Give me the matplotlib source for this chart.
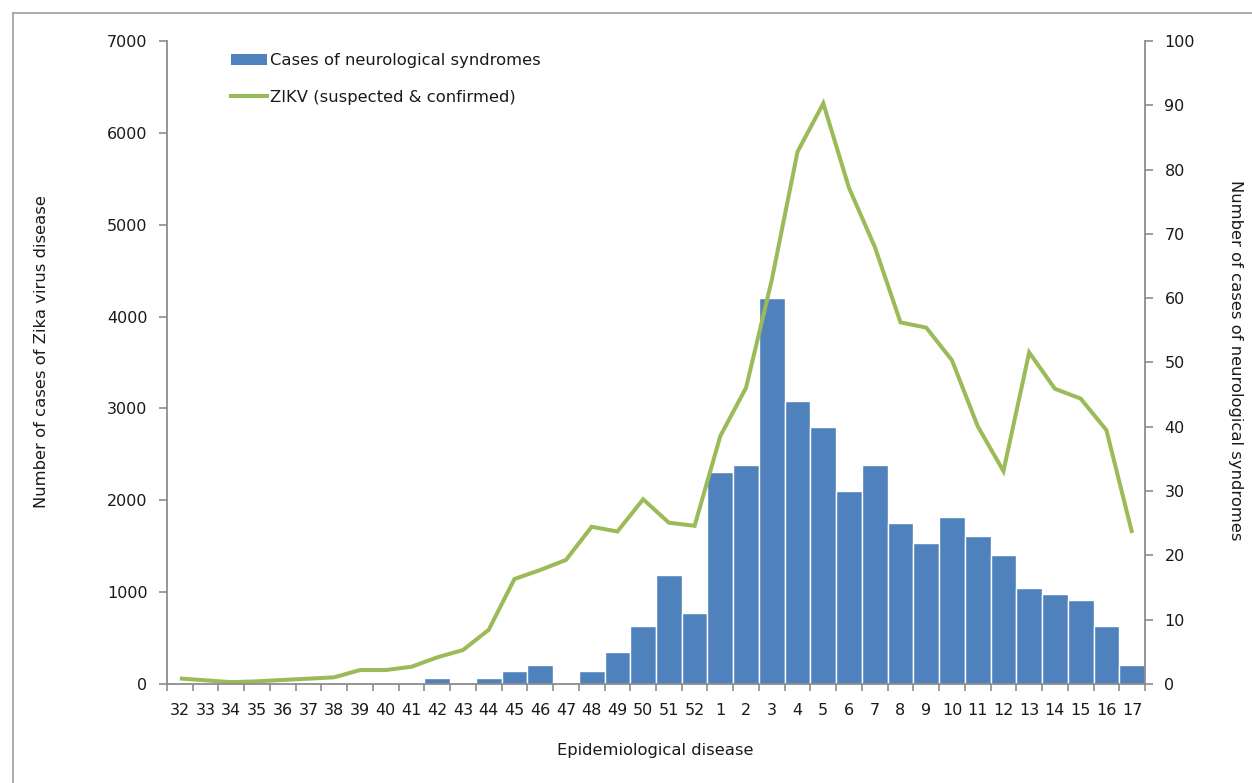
import matplotlib
matplotlib.use("Agg")
import matplotlib.pyplot as plt
from matplotlib.lines import Line2D
from matplotlib.patches import Patch

# Epidemiological weeks (2015 week 32 to 2016 week 17)
weeks = [str(w) for w in range(32, 53)] + [str(w) for w in range(1, 18)]

# Cases of neurological syndromes per week (right axis)
neuro_cases = [0, 0, 0, 0, 0, 0, 0, 0, 0, 0, 1, 0, 1, 2, 3, 0, 2, 5, 9, 17, 11,
               33, 34, 60, 44, 40, 30, 34, 25, 22, 26, 23, 20, 15, 14, 13, 9, 3]

# ZIKV cases, suspected and confirmed, per week (left axis)
zikv_cases = [60, 40, 20, 29, 44, 58, 73, 152, 152, 188, 290, 370, 590, 1143,
              1241, 1350, 1712, 1660, 2011, 1756, 1722, 2700, 3226, 4400, 5795,
              6321, 5400, 4760, 3937, 3880, 3524, 2806, 2318, 3610, 3214, 3107,
              2764, 1644]

left_ticks = list(range(0, 7001, 1000))
right_ticks = list(range(0, 101, 10))

BAR_COLOR = "#4F81BD"
LINE_COLOR = "#9BBB59"
AXIS_GREY = "#8C8C8C"
TEXT_COLOR = "#1A1A1A"
TICK_SIZE = 11.5
LABEL_SIZE = 11.8

plt.rcParams["font.family"] = ["DejaVu Sans"]
plt.rcParams["font.size"] = 11

fig = plt.figure(figsize=(12.52, 7.83), dpi=100)
ax = fig.add_axes([167 / 1252, 99 / 783, (1145 - 167) / 1252, (684 - 41) / 783])
ax2 = ax.twinx()

x = list(range(len(weeks)))

# Bars on the right-hand scale, line on the left-hand scale drawn on top
bars = ax2.bar(x, neuro_cases, width=1.0, color=BAR_COLOR,
               edgecolor="white", linewidth=1.0)
line, = ax.plot(x, zikv_cases, color=LINE_COLOR, linewidth=2.9,
                solid_joinstyle="miter", solid_capstyle="butt")

ax.set_zorder(ax2.get_zorder() + 1)
ax.patch.set_visible(False)

ax.set_xlim(-0.5, len(weeks) - 0.5)
ax.set_ylim(0, 7000)
ax2.set_ylim(0, 100)

ax.set_yticks(left_ticks)
ax2.set_yticks(right_ticks)

ax.set_xticks(x)
ax.set_xticklabels(weeks)
ax.set_xticks([i - 0.5 for i in range(len(weeks) + 1)], minor=True)
ax.tick_params(axis="x", which="major", length=0, pad=14, labelsize=TICK_SIZE,
               labelcolor=TEXT_COLOR)
ax.tick_params(axis="x", which="minor", length=5, width=1.2, color=AXIS_GREY,
               direction="out")
ax.tick_params(axis="y", length=6, width=1.2, color=AXIS_GREY, pad=8,
               labelsize=TICK_SIZE, labelcolor=TEXT_COLOR, direction="out")
ax2.tick_params(axis="y", length=6, width=1.2, color=AXIS_GREY, pad=8,
                labelsize=TICK_SIZE, labelcolor=TEXT_COLOR, direction="out")

for a in (ax, ax2):
    a.spines["top"].set_visible(False)
    for side in ("left", "right", "bottom"):
        a.spines[side].set_color(AXIS_GREY)
        a.spines[side].set_linewidth(1.3)
ax.spines["right"].set_visible(False)
ax2.spines["left"].set_visible(False)
ax2.spines["bottom"].set_visible(False)

fig.text(42 / 1252, 1 - 352 / 783, "Number of cases of Zika virus disease",
         rotation=90, ha="center", va="center", fontsize=LABEL_SIZE, color=TEXT_COLOR)
fig.text(1235 / 1252, 1 - 360 / 783, "Number of cases of neurological syndromes",
         rotation=270, ha="center", va="center", fontsize=LABEL_SIZE, color=TEXT_COLOR)
fig.text(655 / 1252, 1 - 751 / 783, "Epidemiological disease",
         ha="center", va="center", fontsize=LABEL_SIZE, color=TEXT_COLOR)

handles = [Patch(facecolor=BAR_COLOR, edgecolor="none"),
           Line2D([0], [0], color=LINE_COLOR, linewidth=2.9)]
labels = ["Cases of neurological syndromes", "ZIKV (suspected & confirmed)"]
fig.legend(handles, labels, loc="upper left",
           bbox_to_anchor=(219 / 1252, 1 - 41 / 783), frameon=False,
           fontsize=LABEL_SIZE, handlelength=2.2, handleheight=0.6,
           handletextpad=0.15, labelspacing=1.32, borderpad=0.25,
           labelcolor=TEXT_COLOR)

# Outer frame around the chart area
frame_kw = dict(color="#A6A6A6", linewidth=1.3, transform=fig.transFigure)
fig.add_artist(Line2D([12.5 / 1252, 12.5 / 1252], [0, 1 - 12.5 / 783], **frame_kw))
fig.add_artist(Line2D([12.5 / 1252, 1], [1 - 12.5 / 783, 1 - 12.5 / 783], **frame_kw))

fig.savefig("out.png", dpi=100, facecolor="white")
